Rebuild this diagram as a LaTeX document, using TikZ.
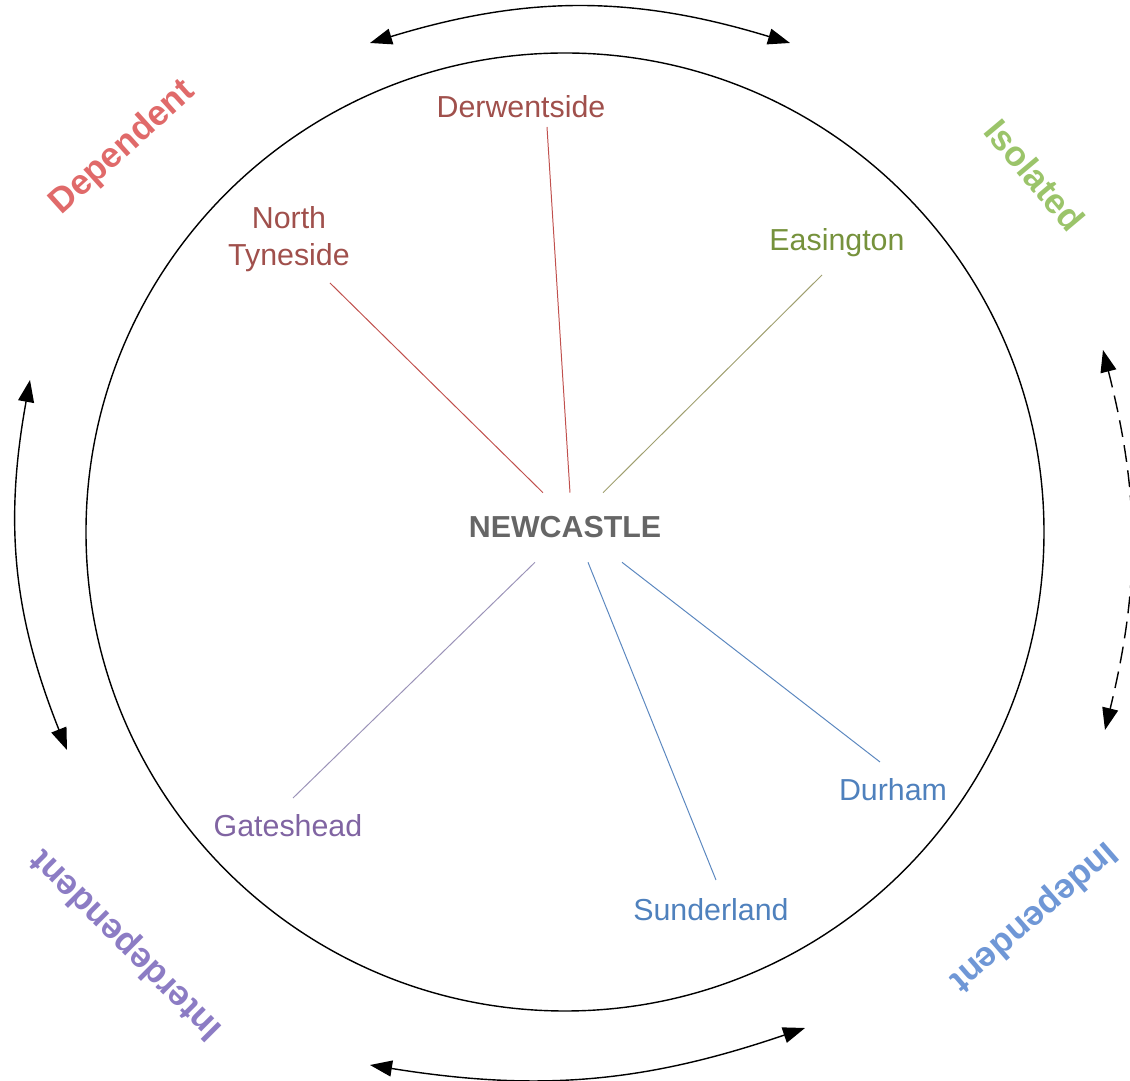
\documentclass[tikz,border=0pt]{standalone}
\usepackage{fontspec}
\setsansfont{Liberation Sans}
\usetikzlibrary{positioning,calc,arrows.meta}

\definecolor{redtxt}{HTML}{A0504C}
\definecolor{redln}{HTML}{C0504D}
\definecolor{grntxt}{HTML}{76923C}
\definecolor{grnln}{HTML}{A0A070}
\definecolor{purtxt}{HTML}{8064A2}
\definecolor{purln}{HTML}{9B93B8}
\definecolor{blutxt}{HTML}{4F81BD}
\definecolor{bluln}{HTML}{5B87BF}
\definecolor{deptxt}{HTML}{E06A6A}
\definecolor{isotxt}{HTML}{9BC46A}
\definecolor{intertxt}{HTML}{8C7CC4}
\definecolor{indtxt}{HTML}{6F97D6}

\tikzset{
  town/.style={font=\sffamily\fontsize{21.6}{26.3}\selectfont, inner sep=2pt, align=center},
  mode/.style={font=\sffamily\bfseries\fontsize{25}{30}\selectfont, inner sep=0pt},
  spoke/.style={line width=0.7pt},
  twoway/.style={line width=1pt, {Triangle[length=5.5mm,width=4mm]}-{Triangle[length=5.5mm,width=4mm]}}
}

\begin{document}
\begin{tikzpicture}
  \useasboundingbox (-14.125,-13.725) rectangle (14.125,13.3);
  % ---- ring ----
  \draw[line width=1pt] (0,0) circle (11.975);
  % ---- hub ----
  \node[font=\sffamily\bfseries\fontsize{21.6}{26}\selectfont, text=black!60, minimum height=1.725cm, inner sep=0pt] (newc) at (0,0.1125) {NEWCASTLE};
  % ---- towns ----
  \node[town, text=redtxt] (nt) at (-6.9,7.325) {North\\Tyneside};
  \node[town, text=redtxt, anchor=base] (dw) at (-1.1,10.35) {Derwentside};
  \node[town, text=grntxt, anchor=base] (ea) at (6.8,7.025) {Easington};
  \node[town, text=purtxt, anchor=base] (gh) at (-6.925,-7.625) {Gateshead};
  \node[town, text=blutxt, anchor=base] (su) at (3.65,-9.725) {Sunderland};
  \node[town, text=blutxt, anchor=base] (du) at (8.2,-6.725) {Durham};
  % ---- spokes ----
  \draw[spoke, redln] ([shift={(1.025,-1.1)}]nt.center) -- ([xshift=-0.55cm]newc.north);
  \draw[spoke, redln] ([shift={(0.65,-0.225)}]dw.base) -- ([xshift=0.125cm]newc.north);
  \draw[spoke, grnln] ([shift={(-0.375,-0.6)}]ea.base) -- ([xshift=0.95cm]newc.north);
  \draw[spoke, purln] ([shift={(0.125,0.975)}]gh.base) -- ([xshift=-0.75cm]newc.south);
  \draw[spoke, bluln] ([shift={(0.125,1.025)}]su.base) -- ([xshift=0.575cm]newc.south);
  \draw[spoke, bluln] ([shift={(-0.325,0.975)}]du.base) -- ([xshift=1.425cm]newc.south);
  % ---- modes ----
  \node[mode, text=deptxt, rotate=42] (dep) at (-11.05,9.6) {Dependent};
  \node[mode, text=isotxt, rotate=-50] (iso) at (11.75,8.925) {Isolated};
  \node[mode, text=intertxt, rotate=135] (inter) at (-10.95,-10.3) {Interdependent};
  \node[mode, text=indtxt, rotate=-139] (ind) at (11.7,-9.6) {Independent};
  % ---- shifts between modes ----
  \coordinate (ta) at (-4.875,12.225);
  \coordinate (tb) at (5.625,12.225);
  \coordinate (ba) at (-4.875,-13.325);
  \coordinate (bb) at (6.0,-12.4);
  \coordinate (la) at (-13.375,3.8);
  \coordinate (lb) at (-12.45,-5.45);
  \coordinate (ra) at (13.45,4.55);
  \coordinate (rb) at (13.5,-4.95);
  \draw[twoway] (ta) to[bend left=17] (tb);
  \draw[twoway] (ba) to[bend right=14] (bb);
  \draw[twoway] (la) to[bend right=16] (lb);
  \draw[twoway, dash pattern=on 12pt off 6pt] (ra) to[bend left=14] (rb);
\end{tikzpicture}
\end{document}
